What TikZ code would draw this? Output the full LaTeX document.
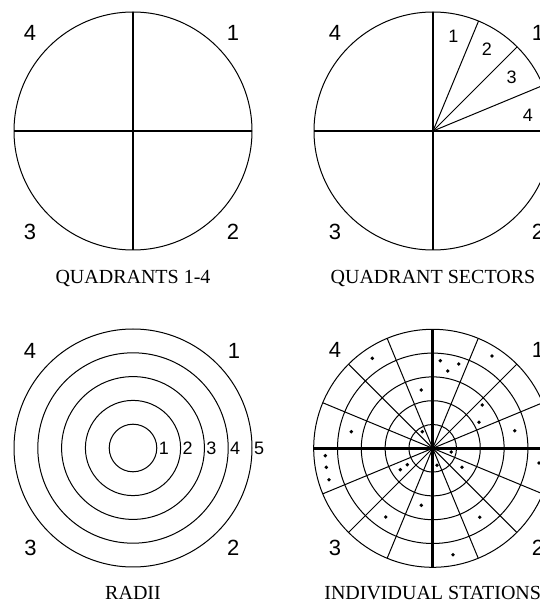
\documentclass[tikz,border=0pt]{standalone}
\usepackage{fontspec}
\setmainfont{Liberation Serif}
\newfontfamily\numfont{Liberation Sans}

\tikzset{
    ring/.style={line width=1pt},
    axis/.style={line width=2.7pt},
    spoke/.style={line width=1pt},
    qnum/.style={font=\numfont\fontsize{22}{22}\selectfont},
    snum/.style={font=\numfont\fontsize{18}{18}\selectfont},
    caption/.style={font=\fontsize{20}{20}\selectfont, anchor=base}
}

\begin{document}
\begin{tikzpicture}[x=1pt, y=1pt]
    \useasboundingbox (0,0) rectangle (540,603);
    \clip (0,0) rectangle (540,603);

    % quadrants 1-4
    \begin{scope}[shift={(133,472)}]
        \draw[ring] (0,0) circle (119);
        \draw[axis] (-119,0) -- (119,0);
        \draw[axis] (0,-119) -- (0,119);
    \end{scope}
    \node[qnum] (qa4) at (30,570) {4};
    \node[qnum] (qa1) at (233,570) {1};
    \node[qnum] (qa3) at (30,371) {3};
    \node[qnum] (qa2) at (233,371) {2};
    \node[caption] (capa) at (133,319) {QUADRANTS 1-4};

    % quadrant sectors
    \begin{scope}[shift={(433,472)}]
        \draw[ring] (0,0) circle (119);
        \foreach \a in {22.5,45,67.5}
            \draw[spoke] (0,0) -- (\a:119);
        \draw[axis] (-119,0) -- (119,0);
        \draw[axis] (0,-119) -- (0,119);
    \end{scope}
    \node[snum] (sec1) at (453.3,566.3) {1};
    \node[snum] (sec2) at (487,554) {2};
    \node[snum] (sec3) at (511.7,526) {3};
    \node[snum] (sec4) at (528,488) {4};
    \node[qnum] (qb4) at (335,570) {4};
    \node[qnum] (qb1) at (538,570) {1};
    \node[qnum] (qb3) at (335,371) {3};
    \node[qnum] (qb2) at (538,371) {2};
    \node[caption] (capb) at (433,319) {QUADRANT SECTORS};

    % radii
    \begin{scope}[shift={(133,155)}]
        \foreach \r in {1,...,5} {
            \draw[ring] (0,0) circle (\r*23.8);
            \node[snum, anchor=west, inner sep=1pt] (rad\r) at (\r*23.8+0.8,0) {\r};
        }
    \end{scope}
    \node[qnum] (qc4) at (30,252) {4};
    \node[qnum] (qc1) at (234,252) {1};
    \node[qnum] (qc3) at (30.5,54.7) {3};
    \node[qnum] (qc2) at (233.3,54.7) {2};
    \node[caption] (capc) at (133,3) {RADII};

    % individual stations
    \begin{scope}[shift={(432.7,154.7)}]
        \foreach \r in {1,...,5}
            \draw[ring] (0,0) circle (\r*23.8);
        \foreach \a in {22.5,45,...,337.5}
            \draw[spoke] (0,0) -- (\a:119);
        \draw[axis] (-119,0) -- (119,0);
        \draw[axis] (0,-119) -- (0,119);
        \foreach \p in {(-60.4,90), (-11.4,58.3), (-81.4,16.6), (-10.4,16.6),
                        (7.6,87.6), (26,84.3), (15,77.3), (59.3,92.3),
                        (49.6,43.3), (46.3,26), (82,17.6),
                        (-107.4,-7.4), (-106.4,-19), (-103.7,-31.4),
                        (-32.4,-21.4), (-25.4,-16.4), (-11.4,-57), (-47,-68.7),
                        (18.6,-3.7), (4.3,-17), (29.3,-19), (106.3,-14.7),
                        (47,-69), (20.3,-106.4)}
            \fill \p circle (1.9);
    \end{scope}
    \node[qnum] (qd4) at (335,253) {4};
    \node[qnum] (qd1) at (538,253) {1};
    \node[qnum] (qd3) at (335,54.7) {3};
    \node[qnum] (qd2) at (538,54.7) {2};
    \node[caption] (capd) at (432.7,3) {INDIVIDUAL STATIONS};
\end{tikzpicture}
\end{document}
